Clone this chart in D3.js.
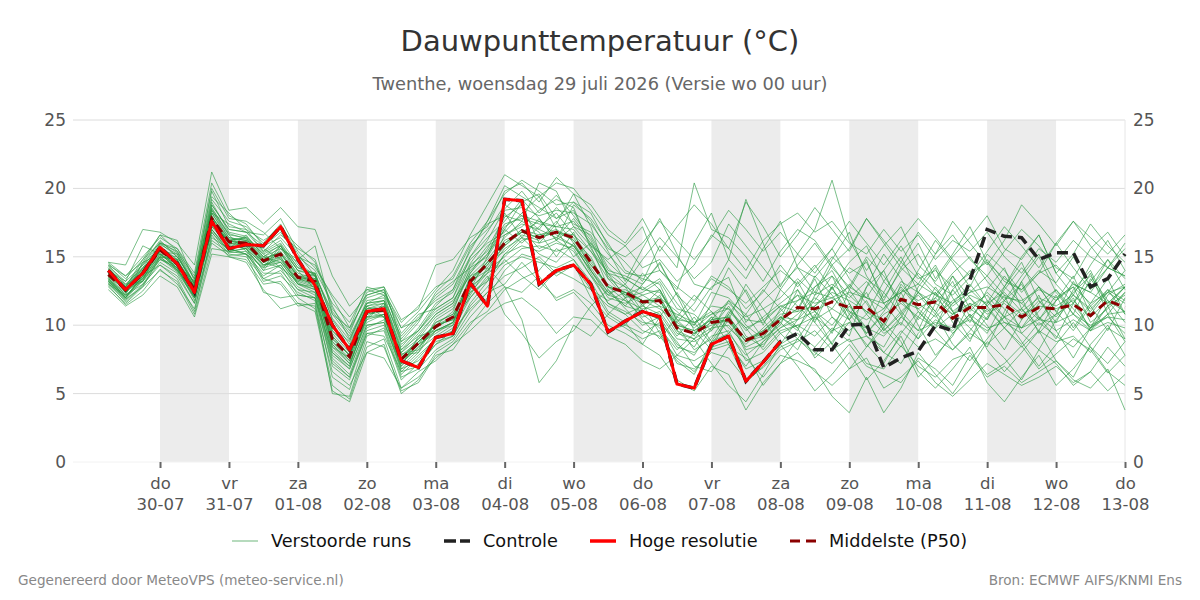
<!DOCTYPE html>
<html>
<head>
<meta charset="utf-8">
<script src="https://cdn.jsdelivr.net/npm/d3@7"></script>
<style>
  body { margin: 0; background: #fff; }
  svg text { font-family: "DejaVu Sans", sans-serif; }
</style>
</head>
<body>
<div id="chart"></div>
<script>
// data
const runStart = "2026-07-29T06:00:00Z";
const stepHours = 6;
const dayTicks = ["2026-07-30","2026-07-31","2026-08-01","2026-08-02","2026-08-03","2026-08-04","2026-08-05",
  "2026-08-06","2026-08-07","2026-08-08","2026-08-09","2026-08-10","2026-08-11","2026-08-12","2026-08-13"];
const shadedDays = ["2026-07-30","2026-08-01","2026-08-03","2026-08-05","2026-08-07","2026-08-09","2026-08-11"];
const dayNames = ["zo","ma","di","wo","do","vr","za"];
const yTicks = [0, 5, 10, 15, 20, 25];

const hires = [14.0,12.6,13.8,15.7,14.5,12.4,17.6,15.6,15.9,15.8,
  17.2,14.8,12.9,10.0,8.2,11.0,11.2,7.4,6.9,9.1,
  9.4,13.1,11.4,19.2,19.1,13.0,14.0,14.4,13.0,9.5,
  10.3,11.0,10.6,5.7,5.4,8.6,9.2,5.9,7.3,8.8];

const control = [14.0,12.6,13.8,15.7,14.5,12.4,17.6,15.6,15.9,15.8,
  17.2,14.8,12.9,10.0,8.2,11.0,11.2,7.4,6.9,9.1,
  9.4,13.1,11.4,19.2,19.1,13.0,14.0,14.4,13.0,9.5,
  10.3,11.0,10.6,5.7,5.4,8.6,9.2,5.9,7.3,8.8,
  9.4,8.2,8.2,10.0,10.1,6.9,7.6,8.1,10.0,9.6,
  13.3,17.0,16.5,16.4,14.8,15.3,15.3,12.8,13.4,15.2];

const p50 = [13.7,12.6,13.8,15.5,14.5,12.6,17.8,16.1,16.0,14.7,
  15.2,13.5,13.2,9.0,7.7,11.0,11.1,7.5,8.7,9.9,
  10.6,13.2,14.5,16.0,16.9,16.4,16.8,16.4,14.6,12.8,
  12.4,11.7,11.8,9.8,9.4,10.2,10.4,8.9,9.4,10.4,
  11.3,11.2,11.7,11.3,11.3,10.3,11.9,11.5,11.7,10.5,
  11.3,11.3,11.5,10.6,11.3,11.2,11.5,10.7,11.8,11.3];

const members = [
  [14.2,12.9,14.5,16.2,15.0,13.1,19.0,16.8,16.5,15.3, 16.0,14.2,13.8,10.5,8.9,11.8,12.0,8.8,9.6,11.2,
   12.0,14.5,16.2,18.5,19.8,18.2,19.5,18.0,16.4,14.0, 13.6,13.0,14.5,12.2,11.0,12.8,13.5,10.2,11.8,13.0,
   14.2,13.5,15.0,13.8,14.6,12.0,14.0,15.2,13.0,12.2, 13.5,14.8,13.2,12.6,14.0,13.1,15.0,12.8,14.2,13.6],
  [13.1,11.7,12.9,14.6,13.8,11.6,16.2,15.3,15.4,13.2, 13.6,12.4,11.8,6.2,5.3,9.2,9.8,6.2,6.8,8.2,
   9.0,11.0,12.4,13.6,14.2,15.0,13.8,14.5,12.0,10.6, 9.8,9.0,9.6,7.2,6.8,8.0,7.6,6.0,6.9,8.2,
   8.8,9.6,8.2,9.0,7.2,6.8,8.5,7.0,6.2,7.5, 8.0,6.4,7.2,8.5,6.8,7.9,9.0,8.2,6.5,7.8],
  [13.9,12.4,14.0,15.8,14.3,12.9,18.4,16.4,16.2,15.6, 14.8,13.1,12.6,8.2,7.0,10.6,11.4,7.9,8.2,10.4,
   11.2,13.8,15.6,17.9,18.8,16.0,17.4,19.6,17.2,13.4, 12.0,13.8,12.6,10.4,9.2,11.6,14.2,12.4,10.0,12.6,
   11.4,10.2,12.8,14.6,15.8,13.2,11.8,10.4,12.0,13.6, 11.2,10.4,12.6,14.2,12.8,11.0,12.4,13.6,11.8,10.2],
  [13.4,12.1,13.5,15.1,14.8,12.2,17.2,15.8,15.6,14.0, 15.6,14.6,13.6,9.6,8.4,11.4,10.6,7.0,9.2,9.6,
   10.0,12.4,13.2,15.2,16.4,17.8,16.2,15.4,13.6,12.2, 13.0,11.4,10.8,9.0,8.8,9.6,10.8,8.2,8.6,9.8,
   10.8,12.0,11.2,10.4,11.8,9.6,10.8,12.4,11.0,9.4, 10.6,11.8,10.2,9.8,11.0,12.6,10.8,9.6,11.4,12.2],
  [13.6,12.8,14.2,15.3,14.0,12.5,17.6,16.0,15.8,14.4, 15.0,13.0,12.8,8.8,7.4,10.8,11.0,7.6,9.0,10.0,
   10.4,12.0,13.6,10.8,9.4,7.6,8.8,9.6,11.4,12.6, 11.2,10.0,10.6,8.6,7.8,9.8,11.4,9.2,8.4,10.6,
   9.8,7.6,8.8,10.2,8.6,7.2,9.4,11.0,9.6,8.2, 9.6,11.2,9.8,8.6,10.2,9.2,8.4,9.8,10.6,9.4],
  [14.5,13.4,14.8,16.0,15.4,13.6,19.8,17.2,17.0,16.2, 17.0,15.8,14.6,11.2,9.6,12.2,12.6,9.0,10.4,12.0,
   13.0,15.4,17.6,20.2,19.4,18.6,17.8,19.0,18.2,15.8, 14.6,13.2,15.8,14.2,20.4,17.0,16.4,15.0,13.2,15.4,
   17.0,16.2,14.4,15.6,17.8,16.0,14.2,13.0,15.2,16.6, 14.8,13.6,15.4,17.0,15.8,14.2,13.4,15.6,16.8,15.0],
  [12.9,11.5,12.5,14.1,13.0,11.2,16.0,15.1,15.2,13.8, 13.8,12.0,11.2,5.6,4.6,8.4,9.0,5.4,6.2,7.6,
   8.6,10.2,11.0,12.6,13.4,14.0,15.6,14.8,13.2,11.0, 10.2,8.6,7.8,6.0,5.2,7.0,6.4,3.8,5.8,7.2,
   8.0,6.6,5.6,6.8,7.6,5.4,6.2,7.4,5.8,4.8, 6.0,7.2,6.4,5.6,6.2,7.0,5.8,6.6,5.2,6.4],
  [13.8,12.6,13.4,15.6,14.6,12.8,18.2,16.2,15.9,14.8, 15.4,13.8,13.4,9.4,8.0,11.2,11.2,7.2,8.6,9.4,
   10.2,13.6,14.8,16.4,17.6,16.8,15.0,16.8,14.0,12.0, 11.6,12.2,11.4,10.8,10.2,11.0,9.8,8.6,9.8,11.0,
   12.2,11.6,12.0,11.0,10.4,11.2,12.6,11.8,12.4,11.0, 12.0,10.8,11.6,10.4,11.8,10.6,12.2,11.2,12.4,11.6],
  [13.2,12.2,14.6,15.2,14.2,12.0,17.0,15.6,16.6,15.0, 14.6,13.4,13.0,8.6,7.2,10.2,10.8,8.0,9.4,10.8,
   11.6,14.0,15.2,17.0,16.0,17.2,18.2,16.6,15.4,13.8, 12.8,11.0,12.2,9.6,8.4,10.4,11.8,10.0,9.0,10.2,
   11.8,12.8,13.6,12.2,11.0,10.0,13.0,11.6,10.6,11.8, 12.6,11.4,12.8,11.6,10.4,11.8,12.8,10.2,11.2,12.4],
  [14.0,13.0,13.2,14.8,14.4,13.2,18.0,15.6,15.2,13.6, 14.4,12.6,12.4,7.6,6.4,9.8,10.4,6.6,7.8,9.0,
   9.8,12.2,14.2,15.8,17.0,15.6,16.2,17.2,15.8,12.8, 11.8,10.6,11.0,9.2,10.6,8.8,9.4,7.8,8.8,9.8,
   10.4,11.0,10.0,11.6,9.4,10.8,11.6,10.6,9.8,10.8, 11.4,12.2,10.6,11.2,10.0,10.8,11.6,9.8,10.8,11.0],
  [13.5,12.0,13.6,15.4,14.6,12.4,18.6,16.6,15.4,14.2, 15.8,14.0,12.6,9.8,8.8,11.6,11.8,8.4,9.8,11.6,
   12.4,14.8,16.0,16.8,18.2,19.4,17.0,15.0,16.0,14.6, 13.4,12.6,13.4,11.6,10.0,12.4,12.0,10.6,11.2,12.0,
   13.4,12.2,13.0,12.0,13.2,11.6,12.4,13.8,12.6,11.4, 12.4,13.6,12.2,11.6,12.8,11.8,13.0,12.4,11.6,12.8],
  [13.3,12.3,14.0,15.9,15.2,12.7,17.4,16.2,16.4,15.2, 14.2,13.2,13.8,8.4,7.6,11.0,10.6,7.8,8.0,10.2,
   10.8,13.0,14.6,15.4,16.6,16.2,17.6,16.0,14.2,12.4, 12.6,11.8,11.2,10.2,9.4,10.0,10.4,8.8,9.6,10.8,
   11.0,11.4,12.4,11.8,11.0,10.4,11.8,11.2,12.0,10.8, 11.6,11.0,11.8,10.8,11.4,11.2,11.8,10.6,11.8,11.0],
  [14.1,12.7,13.9,15.6,14.1,12.1,18.8,17.0,16.8,15.4, 16.2,14.4,13.2,10.2,8.2,10.4,11.6,7.2,8.4,9.8,
   10.6,12.8,13.8,16.6,17.4,17.0,16.4,17.8,16.2,13.6, 12.2,12.8,12.0,11.0,9.8,10.8,11.2,9.6,10.6,11.6,
   12.6,11.0,11.8,12.4,12.0,11.2,13.2,12.4,11.6,10.8, 12.2,11.6,12.4,11.0,12.0,11.4,12.2,11.0,12.6,11.8],
  [13.0,11.8,13.0,14.4,13.4,11.0,16.6,15.0,14.8,13.0, 13.2,11.6,11.0,5.2,4.4,8.0,8.6,5.0,6.0,8.0,
   8.8,10.6,12.0,14.0,15.2,14.8,13.6,14.4,12.6,11.4, 10.8,9.6,9.2,7.6,6.6,8.4,8.8,6.8,7.4,8.6,
   9.4,8.4,9.8,8.8,9.2,8.0,9.6,8.4,9.0,8.2, 9.4,8.6,9.8,8.4,9.6,8.8,9.2,8.0,9.8,9.0],
  [14.6,13.6,15.0,16.4,15.6,13.8,20.4,18.0,17.4,15.8, 16.4,15.0,14.0,11.6,10.2,12.6,12.2,9.8,11.0,12.6,
   14.0,16.6,18.8,21.0,20.2,19.4,20.4,20.0,18.4,16.6, 15.8,14.2,14.8,13.2,14.4,16.6,15.6,14.0,16.2,17.4,
   18.2,16.8,17.6,16.0,15.2,17.0,15.4,16.6,14.8,16.2, 15.4,16.8,15.0,13.8,15.6,14.6,16.2,15.0,14.2,16.0],
  [13.7,12.5,13.7,15.2,14.4,12.3,17.9,16.3,16.2,14.6, 15.2,13.6,13.4,9.2,7.8,11.0,11.0,7.6,8.8,10.0,
   10.4,13.4,14.4,16.2,16.8,17.6,16.6,15.8,14.4,13.0, 12.2,11.6,11.8,9.6,9.0,10.6,10.2,8.8,9.2,10.4,
   11.2,13.4,10.6,9.2,12.8,14.0,11.0,9.6,12.4,10.2, 8.8,11.6,13.6,12.0,9.4,10.8,13.2,11.4,9.6,12.0],
  [13.4,12.0,13.8,15.0,14.0,12.6,16.8,15.4,16.0,14.4, 14.6,13.0,12.4,7.8,6.8,10.0,10.2,7.0,8.2,9.2,
   10.0,12.6,15.0,18.2,16.4,15.2,14.6,16.0,13.8,11.6, 10.8,11.4,12.6,10.0,8.2,9.0,11.0,9.8,8.2,9.6,
   10.0,9.2,10.6,9.6,10.8,9.4,10.2,9.0,10.4,9.6, 10.8,9.8,10.2,9.4,10.6,9.6,10.4,9.6,10.2,9.8],
  [14.3,13.2,14.4,16.1,15.3,13.4,18.5,16.7,16.3,15.0, 15.9,14.2,13.7,10.8,9.2,11.6,12.2,8.6,9.6,11.4,
   12.6,15.0,16.8,18.8,18.0,17.0,18.6,17.4,16.8,15.2, 13.8,13.6,14.0,12.8,11.8,13.4,12.6,11.6,12.8,14.0,
   13.0,14.4,12.6,14.2,13.4,12.4,14.6,13.4,14.0,12.8, 13.8,14.6,13.4,12.6,13.8,14.4,13.0,12.4,14.2,13.6],
  [13.6,12.2,13.2,15.0,14.7,12.9,17.3,15.9,15.7,14.3, 14.9,13.3,12.9,8.0,7.0,10.6,10.8,6.8,8.0,9.6,
   10.2,13.2,14.0,15.0,16.2,16.6,17.0,16.2,15.0,12.6, 11.4,11.0,10.4,8.4,8.0,9.2,9.6,7.4,8.0,9.4,
   10.0,10.6,9.6,10.2,9.8,9.2,10.6,9.6,10.2,9.8, 10.4,9.6,10.6,9.8,10.4,10.2,10.8,10.0,10.6,10.4],
  [13.9,12.8,14.1,15.7,14.5,12.6,17.7,16.1,16.1,14.9, 15.3,13.5,13.1,8.8,7.6,11.2,11.4,7.4,8.6,10.2,
   10.8,13.4,14.6,16.0,16.8,16.4,16.8,16.4,14.6,12.8, 12.4,11.8,11.8,9.8,9.4,10.2,10.4,8.8,9.4,10.4,
   13.2,11.0,9.4,12.6,14.8,11.6,10.0,12.8,14.4,12.0, 10.2,12.6,14.2,11.2,9.6,11.8,13.6,10.8,12.4,14.0],
  [13.2,12.0,13.4,15.0,14.0,12.0,17.0,15.4,15.6,14.0, 14.4,12.8,12.2,7.4,6.2,9.6,10.0,6.4,7.6,9.0,
   9.6,12.0,13.4,15.2,15.8,15.4,16.0,15.6,13.6,11.6, 11.0,10.2,10.0,7.8,7.4,8.2,8.6,5.8,7.0,8.4,
   9.0,8.0,7.2,8.6,7.0,6.4,5.8,7.6,6.8,5.6, 7.8,6.2,7.0,5.8,6.6,7.4,6.0,5.4,6.8,3.8],
  [14.0,12.8,14.8,16.6,15.4,13.0,19.2,17.6,17.2,16.0, 17.4,15.2,13.6,11.0,9.4,12.4,12.8,8.8,10.2,12.4,
   13.6,16.0,17.6,19.6,20.6,19.8,18.8,19.0,17.6,15.4, 13.2,15.6,17.8,15.2,13.0,12.6,14.8,19.2,16.0,12.8,
   15.2,17.0,20.6,16.2,14.0,15.8,17.2,14.4,13.2,15.0, 16.4,18.0,15.6,14.8,16.6,13.8,15.2,17.4,15.8,14.6],
  [13.8,12.4,13.6,15.4,14.8,12.4,18.0,16.0,15.8,14.6, 15.0,13.4,13.0,9.0,7.8,10.8,11.2,7.8,8.8,10.0,
   11.0,14.2,15.8,16.6,17.2,18.4,19.2,18.6,15.6,13.8, 12.0,12.4,13.2,11.2,10.8,9.6,11.8,10.8,9.0,11.2,
   12.2,10.4,11.2,13.0,11.6,9.6,11.0,12.2,10.8,12.6, 11.0,12.4,11.2,9.8,11.6,12.6,11.2,9.8,12.2,13.0],
  [13.5,12.6,13.8,15.5,14.5,12.6,17.6,16.0,16.0,14.7, 15.2,13.5,13.3,9.0,7.8,11.0,11.0,7.6,8.8,9.8,
   10.6,13.0,14.4,15.8,16.8,16.4,16.8,16.2,14.4,12.8, 12.4,11.8,11.8,10.0,9.6,10.4,10.6,9.0,9.6,10.6,
   9.6,12.2,14.4,12.6,10.8,13.2,15.0,12.4,11.0,13.6, 12.0,10.4,12.8,14.6,11.8,10.2,12.6,14.0,11.4,12.8],
  [13.0,12.2,13.0,14.8,14.2,11.8,17.0,15.4,15.2,14.2, 14.6,13.0,12.6,8.4,7.2,10.4,10.8,7.4,8.6,9.6,
   10.2,12.4,13.8,14.6,15.6,15.8,15.4,15.8,14.0,12.4, 11.4,13.0,14.6,12.2,9.6,8.2,10.8,12.6,10.4,8.6,
   10.4,12.8,14.0,11.6,9.2,8.4,10.6,12.4,14.2,11.0, 9.8,8.4,11.0,13.2,10.6,9.0,11.6,13.8,10.8,8.8],
  [14.4,13.0,14.2,16.0,15.0,13.0,18.4,16.6,16.4,15.2, 15.8,14.0,13.8,10.4,8.6,11.4,11.6,8.2,9.2,10.8,
   11.6,14.4,15.4,17.4,17.8,17.4,17.2,17.6,16.0,13.8, 13.4,12.6,12.4,10.6,10.0,11.4,11.2,9.8,10.4,11.4,
   11.0,13.6,12.2,10.4,12.8,15.2,13.4,11.0,9.8,12.6, 14.0,11.8,10.6,13.2,15.0,12.4,10.8,13.4,11.6,12.8],
  [13.1,11.9,13.3,14.9,13.9,12.0,16.8,15.2,15.0,13.4, 14.0,12.6,12.0,7.0,6.0,9.4,9.6,6.0,7.2,8.6,
   9.2,11.4,12.8,14.4,15.0,14.6,14.2,14.8,12.8,10.8, 10.0,9.4,10.2,8.8,7.0,6.6,8.4,7.6,6.2,7.8,
   7.4,6.8,4.8,3.6,6.2,3.6,5.4,8.0,6.4,5.0, 6.8,8.8,7.6,6.0,8.2,7.2,5.6,6.6,8.4,7.0],
  [14.2,12.8,14.0,15.8,14.8,12.8,18.2,16.4,16.2,15.0, 15.6,14.0,13.6,9.6,8.2,11.2,11.6,8.0,9.0,10.6,
   11.4,13.8,15.2,17.2,18.0,17.6,17.2,17.0,15.4,13.4, 12.8,12.2,12.6,10.4,10.2,10.8,11.6,10.4,10.2,11.4,
   11.8,12.4,12.0,12.8,12.0,11.6,12.4,13.0,12.2,11.6, 12.4,12.8,12.0,11.8,12.6,12.0,12.8,11.6,12.4,12.8],
  [13.4,12.4,13.4,15.2,14.2,12.2,17.4,15.8,15.6,14.4, 14.8,13.2,12.8,8.6,7.4,10.6,10.6,7.2,8.4,9.6,
   10.2,12.6,14.0,15.6,16.4,16.0,16.4,15.8,14.0,12.2, 11.8,11.2,11.4,9.4,9.0,9.8,10.0,8.4,9.0,10.0,
   12.6,10.2,8.6,10.8,12.4,9.8,8.4,10.6,12.8,11.0, 9.0,10.6,12.2,9.4,8.2,10.4,12.0,9.6,10.8,12.4],
  [13.9,12.7,13.9,15.6,14.6,12.7,17.9,16.2,16.1,14.8, 15.3,13.6,13.2,9.2,7.8,11.0,11.2,7.6,8.8,10.0,
   10.6,13.2,14.6,16.0,17.0,16.6,16.8,16.6,14.8,12.8, 12.4,11.8,12.0,10.0,9.6,10.4,10.6,9.0,9.4,10.6,
   10.4,11.8,13.6,11.0,9.8,12.4,10.8,9.0,11.6,13.2, 10.6,9.4,11.8,13.0,10.4,12.2,9.8,11.6,13.4,10.8],
  [14.6,14.4,17.0,16.8,16.0,14.4,21.2,18.4,18.6,17.4, 18.6,17.2,17.0,13.6,11.4,12.6,12.8,10.4,11.2,14.4,
   14.8,16.4,17.2,19.8,20.4,19.0,20.8,19.6,18.8,17.0, 16.0,17.8,15.4,17.2,18.8,17.4,15.6,19.0,17.2,15.0,
   16.6,18.6,17.0,15.4,17.8,16.2,14.6,16.8,15.2,17.6, 16.0,14.4,16.2,18.8,17.4,15.8,17.6,16.4,15.2,16.6],
  [12.6,11.4,12.2,13.6,12.8,10.6,15.2,15.0,14.6,12.6, 11.2,11.6,11.4,6.6,5.6,8.0,7.6,5.4,6.6,7.4,
   8.6,9.6,10.8,11.6,12.0,11.0,9.4,10.6,10.4,9.2, 8.6,7.4,6.8,7.8,9.0,7.2,5.6,4.4,6.4,8.6,
   7.0,5.2,6.4,8.0,6.0,7.4,9.2,6.6,5.4,6.8, 8.4,5.8,4.4,6.2,7.8,5.6,6.8,8.4,6.6,5.6],
  [14.0,13.2,15.8,15.2,15.0,13.0,18.2,17.4,16.8,16.6, 17.8,15.4,14.2,12.2,10.6,12.2,12.6,9.8,10.4,12.2,
   13.2,14.2,15.0,17.0,19.0,19.6,17.8,18.4,15.8,14.8, 15.8,17.2,14.0,12.6,16.0,18.2,14.8,13.4,15.6,17.6,
   14.2,12.4,14.8,16.8,13.6,11.8,14.2,16.0,13.4,15.2, 17.2,14.6,12.8,15.0,16.6,13.8,12.2,14.4,16.2,14.0],
  [13.2,12.0,13.6,14.4,13.6,11.6,16.4,15.6,15.2,12.4, 12.0,12.2,12.0,7.2,6.2,9.4,9.2,6.6,7.0,8.6,
   9.6,11.2,12.4,13.0,14.6,13.2,12.0,12.6,11.6,10.0, 9.4,8.6,10.6,12.4,10.2,8.6,10.4,13.0,11.2,9.4,
   8.2,10.6,12.8,10.4,8.4,9.8,12.4,10.0,7.8,9.2, 11.6,10.0,8.2,10.4,12.2,9.6,7.6,9.8,11.4,9.0],
  [13.8,12.6,13.2,16.0,15.6,13.4,19.4,18.2,17.0,15.4, 16.6,15.6,14.8,11.4,9.0,11.6,11.8,9.2,10.6,11.8,
   12.6,15.6,17.4,18.0,17.6,20.4,19.8,17.2,16.6,14.2, 13.0,14.8,16.4,15.0,13.4,14.6,17.4,15.8,14.2,12.6,
   14.4,16.0,14.2,12.8,15.0,13.6,11.8,14.0,16.2,14.6, 12.8,15.2,14.0,12.4,13.8,16.0,14.2,12.6,14.8,13.4],
  [13.3,11.9,12.8,15.0,14.8,12.0,17.4,16.2,15.8,14.6, 14.2,12.2,12.0,8.0,6.8,10.0,10.2,6.8,7.4,8.8,
   9.2,11.6,13.2,14.8,13.6,12.6,14.0,13.4,12.6,11.8, 12.4,10.8,9.8,8.2,9.4,10.6,8.6,7.0,8.8,10.2,
   9.0,7.8,9.6,11.4,9.8,8.0,7.2,9.4,10.8,8.6, 7.4,9.0,10.6,8.8,7.0,8.6,10.2,8.4,7.2,8.8],
  [14.4,13.6,14.6,16.6,16.2,13.2,20.0,17.8,17.6,16.8, 15.6,14.8,15.8,10.8,9.8,12.8,12.4,9.4,10.8,11.2,
   12.0,15.0,16.4,17.6,19.2,17.8,16.2,18.8,17.8,16.0, 14.0,13.4,13.0,10.2,11.6,13.6,12.8,11.2,12.4,14.4,
   12.8,14.2,15.6,13.4,12.0,14.0,15.8,13.6,12.2,13.8, 15.0,13.2,11.8,13.6,15.2,13.0,11.6,13.2,14.8,12.6],
  [12.8,11.6,12.8,14.0,13.2,10.8,15.6,15.4,15.6,13.4, 13.0,11.4,11.6,5.0,4.8,8.8,8.4,5.2,5.8,7.8,
   8.2,10.0,11.6,12.8,12.4,13.6,11.8,12.4,11.0,9.6, 10.0,11.6,9.4,7.4,6.4,8.8,10.6,8.0,5.6,7.2,
   9.0,10.8,8.6,6.8,8.4,10.2,8.8,6.2,7.6,9.4, 10.8,8.2,6.6,8.0,9.6,7.4,6.2,8.6,10.0,7.8],
  [13.7,12.8,14.4,15.6,14.0,12.8,17.2,16.2,16.4,14.6, 15.8,13.6,13.6,9.8,8.4,11.4,11.8,8.2,9.6,11.0,
   11.8,13.6,14.2,12.8,10.4,5.8,7.4,10.0,9.2,10.8, 12.0,10.4,9.0,10.6,12.2,11.0,9.4,10.8,12.6,11.2,
   9.8,11.4,12.8,10.8,9.4,11.0,12.8,11.2,10.0,11.6, 13.0,11.4,9.8,11.2,12.8,11.0,9.6,11.4,12.6,10.8],
  [14.1,12.4,14.2,15.4,15.2,13.0,18.8,17.0,16.8,15.8, 16.8,15.0,14.4,12.0,9.8,12.0,12.4,10.2,11.4,12.8,
   13.4,15.8,17.0,18.4,18.6,18.0,18.4,18.2,17.4,15.6, 15.0,16.0,17.6,16.2,14.8,16.4,18.4,17.0,15.4,16.8,
   15.2,13.8,15.6,17.6,16.0,14.4,16.2,17.8,16.4,14.8, 13.6,15.4,17.2,15.8,14.2,16.0,17.6,15.8,14.2,15.6]
];

const legendItems = [
  {label: "Verstoorde runs", color: "#4aa45a", width: 1, dash: null, x: 232},
  {label: "Controle", color: "#222", width: 3.5, dash: "12,4", x: 444},
  {label: "Hoge resolutie", color: "#ff0000", width: 3.5, dash: null, x: 590},
  {label: "Middelste (P50)", color: "#8b0000", width: 2.8, dash: "10,6", x: 790}
];

// dimensions
const W = 1200, H = 600;
const margin = {top: 120, right: 75, bottom: 138, left: 73};
const width = W - margin.left - margin.right,
      height = H - margin.top - margin.bottom;

const svg = d3.select("#chart").append("svg")
  .attr("width", W).attr("height", H);

const parseDay = d3.utcParse("%Y-%m-%d");
const t0 = new Date(runStart);
const timeAt = i => new Date(t0.getTime() + i * stepHours * 3600 * 1000);
const ticks = dayTicks.map(parseDay);

// axis start sits ~30h before the first day tick
const x = d3.scaleUtc()
  .domain([new Date(ticks[0].getTime() - 30.3 * 3600 * 1000), ticks[ticks.length - 1]])
  .range([0, width]);
const y = d3.scaleLinear().domain([0, 25]).range([height, 0]);

const g = svg.append("g").attr("transform", `translate(${margin.left},${margin.top})`);

// alternating day shading
g.selectAll("rect.band")
  .data(shadedDays.map(parseDay))
  .join("rect")
  .attr("class", "band")
  .attr("x", d => x(d))
  .attr("y", 0)
  .attr("width", d => x(d3.utcDay.offset(d, 1)) - x(d))
  .attr("height", height)
  .attr("fill", "#ececec");

// horizontal grid
g.selectAll("line.grid")
  .data(yTicks)
  .join("line")
  .attr("class", "grid")
  .attr("x1", 0).attr("x2", width)
  .attr("y1", d => y(d)).attr("y2", d => y(d))
  .attr("stroke", d => d === 0 ? "#f2f2f2" : "#dcdcdc")
  .attr("stroke-width", 1);

// right edge
g.append("line")
  .attr("x1", width).attr("x2", width)
  .attr("y1", 0).attr("y2", height)
  .attr("stroke", "#e6e6e6");

const line = d3.line()
  .x((d, i) => x(timeAt(i)))
  .y(d => y(d));

g.append("g").selectAll("path")
  .data(members)
  .join("path")
  .attr("d", line)
  .attr("fill", "none")
  .attr("stroke", "#2a9a42")
  .attr("stroke-opacity", 0.62)
  .attr("stroke-width", 1);

g.append("path").datum(control)
  .attr("d", line).attr("fill", "none")
  .attr("stroke", "#222").attr("stroke-width", 3.5)
  .attr("stroke-dasharray", "11,6");

g.append("path").datum(p50)
  .attr("d", line).attr("fill", "none")
  .attr("stroke", "#8b0000").attr("stroke-width", 3)
  .attr("stroke-dasharray", "9,6");

g.append("path").datum(hires)
  .attr("d", line).attr("fill", "none")
  .attr("stroke", "#ff0000").attr("stroke-width", 3)
  .attr("stroke-linejoin", "round");

// y axes left and right
const yLeft = g.append("g")
  .call(d3.axisLeft(y).tickValues(yTicks).tickSize(0).tickPadding(7));
const yRight = g.append("g")
  .attr("transform", `translate(${width},0)`)
  .call(d3.axisRight(y).tickValues(yTicks).tickSize(0).tickPadding(8));
[yLeft, yRight].forEach(a => {
  a.select(".domain").remove();
  a.selectAll("text").attr("font-size", 17).attr("fill", "#555")
    .style("font-family", "DejaVu Sans, sans-serif");
});

// x axis with two-line labels
const xAxis = g.append("g")
  .attr("transform", `translate(0,${height})`)
  .call(d3.axisBottom(x).tickValues(ticks).tickSize(6).tickFormat(""));
xAxis.select(".domain").remove();
xAxis.selectAll(".tick line").attr("stroke", "#666").attr("stroke-width", 2);
xAxis.selectAll(".tick").each(function(d) {
  const t = d3.select(this);
  t.append("text").attr("y", 27).attr("text-anchor", "middle")
    .attr("fill", "#555").attr("font-size", 16.5)
    .text(dayNames[d.getUTCDay()]);
  t.append("text").attr("y", 48).attr("text-anchor", "middle")
    .attr("fill", "#555").attr("font-size", 16.5)
    .text(d3.utcFormat("%d-%m")(d));
});

// titles
svg.append("text").attr("x", W / 2).attr("y", 51)
  .attr("text-anchor", "middle").attr("font-size", 29).attr("fill", "#333")
  .text("Dauwpunttemperatuur (°C)");
svg.append("text").attr("x", W / 2).attr("y", 90)
  .attr("text-anchor", "middle").attr("font-size", 17.8).attr("fill", "#666")
  .text("Twenthe, woensdag 29 juli 2026 (Versie wo 00 uur)");

// legend
const leg = svg.append("g").attr("transform", "translate(0,541)");
legendItems.forEach(it => {
  leg.append("line")
    .attr("x1", it.x).attr("x2", it.x + 26).attr("y1", 0).attr("y2", 0)
    .attr("stroke", it.color).attr("stroke-width", it.width)
    .attr("stroke-opacity", it.width === 1 ? 0.8 : 1)
    .attr("stroke-dasharray", it.dash);
  leg.append("text").attr("x", it.x + 39).attr("y", 6)
    .attr("font-size", 17.7).attr("fill", "#111").text(it.label);
});

// footer
svg.append("text").attr("x", 18).attr("y", 585)
  .attr("font-size", 13.6).attr("fill", "#888")
  .text("Gegenereerd door MeteoVPS (meteo-service.nl)");
svg.append("text").attr("x", 1182).attr("y", 585)
  .attr("text-anchor", "end").attr("font-size", 13.6).attr("fill", "#888")
  .text("Bron: ECMWF AIFS/KNMI Ens");
</script>
</body>
</html>
